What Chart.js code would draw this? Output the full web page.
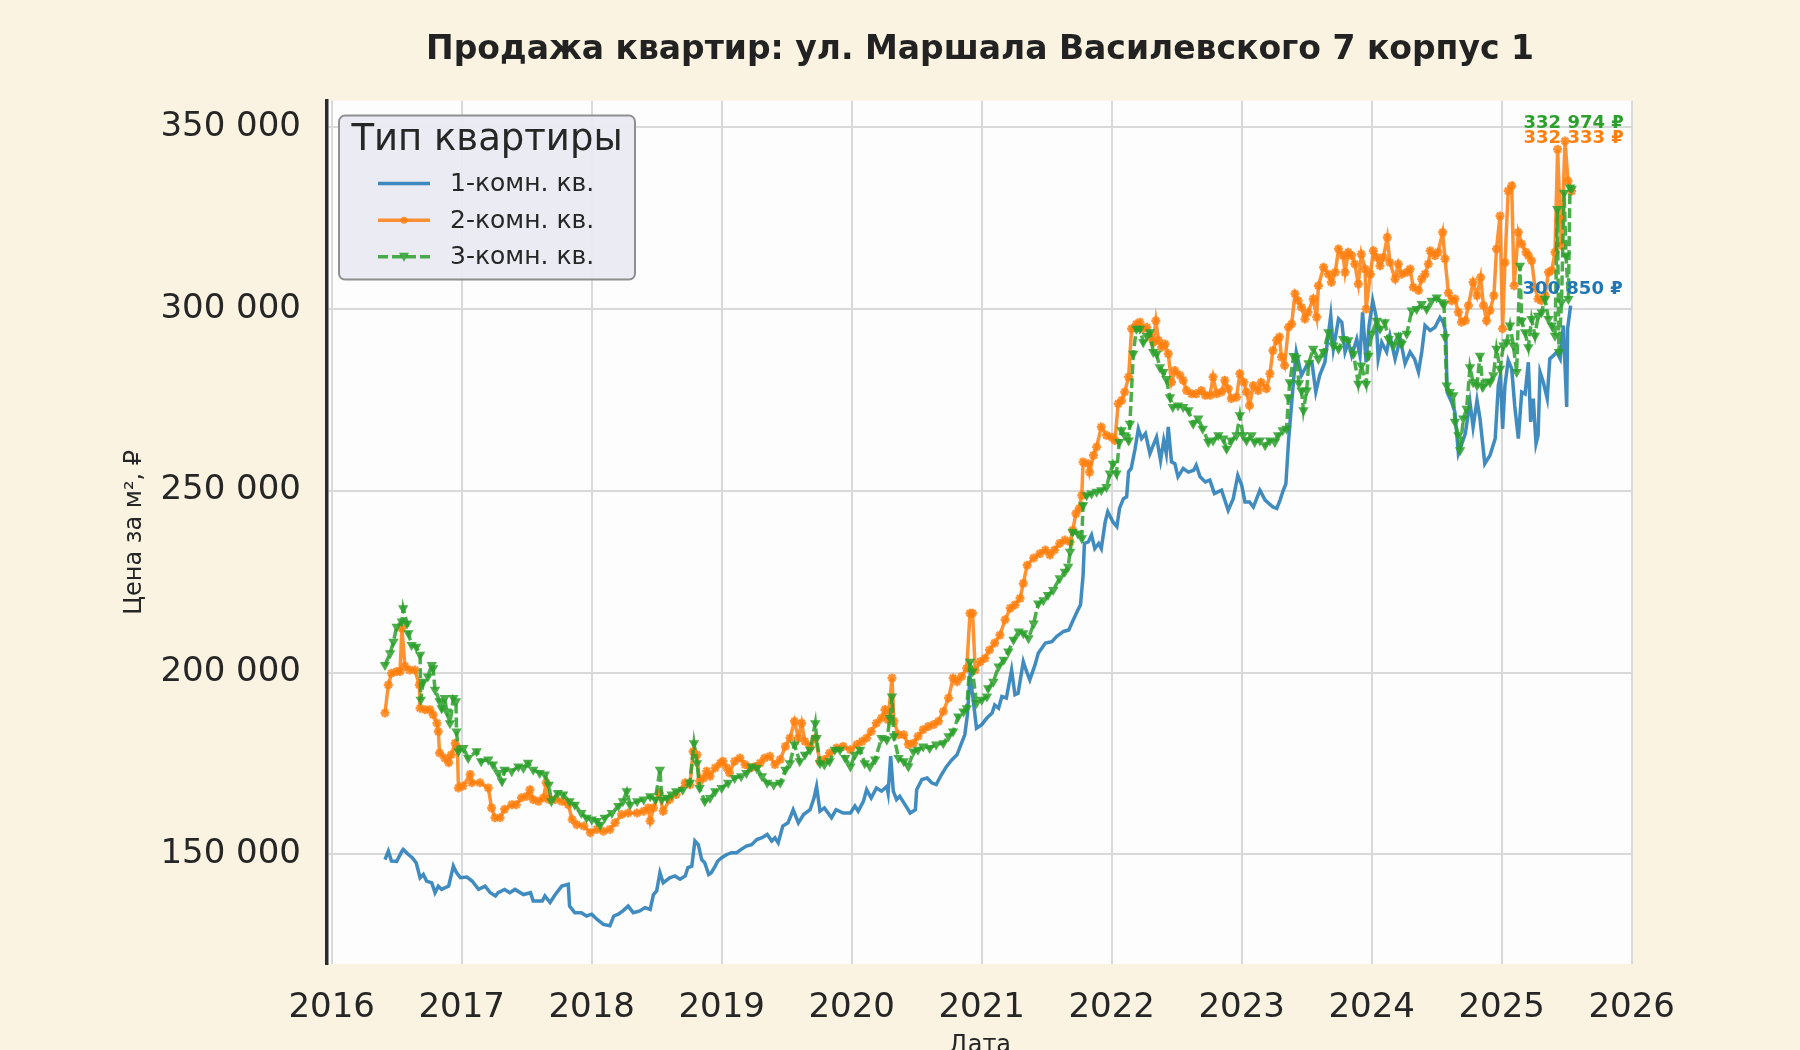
<!DOCTYPE html>
<html lang="ru">
<head>
<meta charset="utf-8">
<title>Продажа квартир: ул. Маршала Василевского 7 корпус 1</title>
<script src="https://cdn.jsdelivr.net/npm/chart.js@4.4.1/dist/chart.umd.min.js"></script>
<style>
  html, body { margin: 0; padding: 0; background: #faf3e1; overflow: hidden; }
  #wrap { width: 1800px; height: 1080px; }
</style>
</head>
<body>
<div id="wrap"><canvas id="priceChart" width="1800" height="1080"></canvas></div>
<script>
// values: [year, price per m2]
const chartTitle = 'Продажа квартир: ул. Маршала Василевского 7 корпус 1';
const legendTitle = 'Тип квартиры';
const seriesNames = ['1-комн. кв.', '2-комн. кв.', '3-комн. кв.'];
const xTicks = [2016, 2017, 2018, 2019, 2020, 2021, 2022, 2023, 2024, 2025, 2026];
const yTicks = [150000, 200000, 250000, 300000, 350000];

const oneRoom = [
  [2016.41,148600],[2016.436,150900],[2016.46,148200],[2016.50,148100],[2016.54,150900],[2016.55,151400],[2016.59,150000],[2016.62,149100],[2016.65,147700],[2016.68,143600],[2016.705,144500],[2016.73,142700],[2016.77,142200],[2016.795,139500],[2016.82,141300],[2016.846,140400],[2016.90,141300],[2016.936,146800],[2016.96,145000],[2016.99,143600],
  [2017.04,143800],[2017.08,142700],[2017.13,140400],[2017.18,141300],[2017.22,139500],[2017.26,138600],[2017.28,139500],[2017.33,140400],[2017.37,139500],[2017.41,140400],[2017.475,139000],[2017.53,139500],[2017.55,137200],[2017.62,137200],[2017.64,138600],[2017.68,136800],[2017.72,139000],[2017.77,141300],[2017.82,141800],[2017.83,135800],[2017.87,134000],[2017.92,134000],[2017.96,133100],
  [2018.00,133600],[2018.04,132200],[2018.09,130800],[2018.14,130400],[2018.17,133100],[2018.205,133600],[2018.24,134500],[2018.28,135800],[2018.32,134000],[2018.37,134500],[2018.41,135400],[2018.45,134900],[2018.475,139000],[2018.50,140000],[2018.525,145000],[2018.55,142200],[2018.60,143600],[2018.64,144100],[2018.68,143200],[2018.72,144100],[2018.74,146400],[2018.77,146800],[2018.794,153700],[2018.82,152700],[2018.846,148600],[2018.87,147700],[2018.90,144500],[2018.92,145000],[2018.95,146800],[2018.97,148200],
  [2019.00,149100],[2019.04,150000],[2019.076,150500],[2019.115,150500],[2019.15,151400],[2019.19,152300],[2019.23,152700],[2019.27,154100],[2019.31,154600],[2019.35,155500],[2019.385,153700],[2019.41,154600],[2019.435,153200],[2019.47,157800],[2019.51,158700],[2019.55,162300],[2019.59,158700],[2019.63,161000],[2019.68,162300],[2019.71,165500],[2019.73,168700],[2019.756,161900],[2019.79,162800],[2019.845,160100],[2019.88,162300],[2019.935,161400],[2019.99,161400],
  [2020.025,163300],[2020.05,161900],[2020.09,164600],[2020.115,167800],[2020.15,165500],[2020.19,168300],[2020.23,167400],[2020.27,168700],[2020.28,166900],[2020.30,177000],[2020.32,167400],[2020.345,165100],[2020.37,166000],[2020.41,163700],[2020.45,161400],[2020.49,162300],[2020.50,167800],[2020.54,170600],[2020.58,171000],[2020.615,169700],[2020.65,169200],[2020.69,171900],[2020.73,174200],[2020.77,176000],[2020.81,177400],[2020.85,181100],[2020.87,182900],[2020.89,188400],[2020.91,198900],[2020.93,193900],[2020.96,184700],
  [2021.00,185700],[2021.04,187500],[2021.08,188900],[2021.10,191100],[2021.13,190200],[2021.155,193400],[2021.19,193000],[2021.23,200700],[2021.256,193900],[2021.28,194300],[2021.32,203000],[2021.345,200300],[2021.37,198000],[2021.41,202100],[2021.435,205300],[2021.49,208100],[2021.54,208500],[2021.576,209900],[2021.63,211300],[2021.67,211700],[2021.705,214500],[2021.74,217200],[2021.76,218600],[2021.78,226800],[2021.79,235500],[2021.82,235900],[2021.845,237800],[2021.87,234100],[2021.90,235500],[2021.92,234100],[2021.95,241400],[2021.97,244200],
  [2022.01,241400],[2022.04,240100],[2022.06,245100],[2022.09,247800],[2022.115,248300],[2022.13,255200],[2022.15,256100],[2022.18,261500],[2022.205,267000],[2022.23,264300],[2022.26,265700],[2022.294,260200],[2022.32,262500],[2022.345,264700],[2022.376,258300],[2022.40,263800],[2022.42,260200],[2022.435,267500],[2022.46,257900],[2022.486,257400],[2022.51,253800],[2022.55,256100],[2022.59,255100],[2022.63,255600],[2022.65,257000],[2022.68,253800],[2022.72,252400],[2022.755,252900],[2022.79,249200],[2022.845,250100],[2022.896,244600],[2022.935,247800],[2022.97,254200],
  [2023.00,251500],[2023.025,246900],[2023.06,246900],[2023.09,245500],[2023.14,250100],[2023.18,247400],[2023.24,245500],[2023.27,245100],[2023.295,247400],[2023.32,250100],[2023.34,251900],[2023.36,263400],[2023.37,267900],[2023.40,280700],[2023.42,288100],[2023.46,281700],[2023.50,284400],[2023.54,285300],[2023.57,277100],[2023.60,281700],[2023.64,285300],[2023.685,298100],[2023.705,289000],[2023.745,297200],[2023.77,296300],[2023.795,288100],[2023.82,290800],[2023.846,287100],[2023.885,291700],[2023.91,287100],[2023.93,299000],[2023.957,285300],[2023.98,295400],
  [2024.008,302200],[2024.033,298100],[2024.05,286200],[2024.077,290800],[2024.115,288100],[2024.14,292600],[2024.18,286200],[2024.22,291700],[2024.257,284900],[2024.295,288100],[2024.33,286200],[2024.36,282600],[2024.385,288100],[2024.41,295400],[2024.45,294000],[2024.487,294900],[2024.525,297600],[2024.55,296300],[2024.57,293500],[2024.58,277100],[2024.615,274300],[2024.64,271600],[2024.667,260200],[2024.69,262500],[2024.72,265700],[2024.756,274300],[2024.78,267500],[2024.81,274800],[2024.833,269800],[2024.87,257400],[2024.91,259700],[2024.95,264300],[2024.974,278900],[2024.99,281700],
  [2025.007,267000],[2025.025,278900],[2025.05,285800],[2025.077,283500],[2025.10,273400],[2025.128,264300],[2025.154,277100],[2025.18,276600],[2025.205,285300],[2025.223,268900],[2025.243,275300],[2025.264,262900],[2025.28,265200],[2025.295,282600],[2025.32,279800],[2025.35,275300],[2025.37,286200],[2025.397,287100],[2025.423,288100],[2025.45,286200],[2025.474,295400],[2025.50,273000],[2025.507,294500],[2025.53,300850]
];

const twoRoom = [
  [2016.41,188900],[2016.436,196600],[2016.46,199800],[2016.50,200300],[2016.526,200300],[2016.54,212200],[2016.564,201700],[2016.60,200700],[2016.64,200700],[2016.674,196600],[2016.68,190200],[2016.72,189800],[2016.756,189800],[2016.78,188400],[2016.81,186100],[2016.82,183800],[2016.83,177900],[2016.87,176500],[2016.90,175200],[2016.92,177400],[2016.95,180600],[2016.967,179300],[2016.975,168300],
  [2017.01,168800],[2017.065,172000],[2017.077,169700],[2017.14,169700],[2017.205,168300],[2017.23,162800],[2017.256,160100],[2017.295,160100],[2017.33,162400],[2017.385,163700],[2017.42,163700],[2017.46,165600],[2017.50,166000],[2017.525,167800],[2017.55,165100],[2017.59,164600],[2017.63,165600],[2017.65,169700],[2017.67,165100],[2017.72,165100],[2017.77,164600],[2017.82,163700],[2017.85,159600],[2017.885,158200],[2017.94,157800],[2017.99,156000],
  [2018.04,156900],[2018.09,156400],[2018.14,156900],[2018.18,158700],[2018.23,161000],[2018.28,161400],[2018.35,161400],[2018.40,161900],[2018.435,162800],[2018.45,159200],[2018.475,162800],[2018.52,166900],[2018.55,161900],[2018.60,165100],[2018.65,166500],[2018.72,169700],[2018.756,169200],[2018.78,178300],[2018.81,177400],[2018.83,170100],[2018.86,171000],[2018.885,172900],[2018.91,171500],[2018.95,173800],[2018.99,175100],
  [2019.01,175600],[2019.04,173800],[2019.06,172400],[2019.10,175600],[2019.14,176500],[2019.18,174700],[2019.22,173800],[2019.26,174200],[2019.295,175100],[2019.33,176500],[2019.37,177000],[2019.41,174700],[2019.45,176100],[2019.49,179700],[2019.525,182000],[2019.56,186600],[2019.59,182000],[2019.615,186100],[2019.64,181100],[2019.68,179700],[2019.72,182000],[2019.756,175600],[2019.79,176100],[2019.83,177900],[2019.885,179300],[2019.935,179700],[2019.99,178800],
  [2020.04,180200],[2020.08,181100],[2020.115,182000],[2020.15,183800],[2020.19,186100],[2020.23,187500],[2020.256,189800],[2020.28,187000],[2020.31,198500],[2020.325,186600],[2020.36,182900],[2020.40,182900],[2020.436,180200],[2020.475,180600],[2020.51,182500],[2020.55,184300],[2020.59,185200],[2020.63,185700],[2020.667,186600],[2020.705,189300],[2020.745,193000],[2020.78,198500],[2020.81,197500],[2020.845,198900],[2020.885,201200],[2020.91,216300],[2020.93,216300],[2020.95,200700],[2020.99,203000],
  [2021.025,203900],[2021.06,206200],[2021.10,208100],[2021.14,210300],[2021.18,214500],[2021.22,217700],[2021.256,218600],[2021.295,220400],[2021.32,224500],[2021.35,229500],[2021.40,231500],[2021.448,232700],[2021.49,233700],[2021.525,232300],[2021.56,233700],[2021.60,235500],[2021.64,236400],[2021.68,235900],[2021.70,239100],[2021.725,243700],[2021.75,245100],[2021.77,248700],[2021.78,257900],[2021.82,257400],[2021.83,255100],[2021.86,259700],[2021.884,262000],[2021.92,267500],[2021.96,265200],
  [2022.00,264700],[2022.025,263800],[2022.05,273900],[2022.076,274800],[2022.10,277100],[2022.13,281200],[2022.153,294500],[2022.19,295800],[2022.217,296300],[2022.24,294500],[2022.27,294900],[2022.294,292200],[2022.32,290800],[2022.34,296700],[2022.36,291300],[2022.384,289400],[2022.41,290300],[2022.435,287600],[2022.46,279800],[2022.486,283000],[2022.525,281700],[2022.55,280300],[2022.576,277500],[2022.615,276600],[2022.65,276600],[2022.69,277500],[2022.72,276200],[2022.756,276200],[2022.78,281200],[2022.807,276600],[2022.845,277100],[2022.87,280300],[2022.896,278000],[2022.92,275300],[2022.96,275700],[2022.986,282100],
  [2023.017,279800],[2023.037,277100],[2023.06,273400],[2023.09,278900],[2023.127,277500],[2023.15,279800],[2023.19,278000],[2023.217,282100],[2023.24,288500],[2023.27,291300],[2023.29,292200],[2023.306,286700],[2023.33,284400],[2023.36,294900],[2023.384,295800],[2023.41,304100],[2023.435,302200],[2023.46,300400],[2023.487,297200],[2023.51,299000],[2023.55,302700],[2023.577,297700],[2023.59,306300],[2023.63,311400],[2023.667,309500],[2023.69,307300],[2023.72,310000],[2023.745,316400],[2023.78,314600],[2023.795,310000],[2023.82,315500],[2023.846,314600],[2023.87,312300],[2023.897,306800],[2023.92,315000],[2023.95,310900],[2023.957,299900],[2023.99,309500],
  [2024.013,315900],[2024.04,314100],[2024.064,311800],[2024.09,314100],[2024.12,319600],[2024.14,312700],[2024.18,308200],[2024.205,312300],[2024.23,309500],[2024.27,310000],[2024.295,310900],[2024.32,305900],[2024.36,305000],[2024.385,308200],[2024.41,309500],[2024.436,312300],[2024.45,315900],[2024.487,314600],[2024.51,315500],[2024.546,321000],[2024.564,313700],[2024.59,304300],[2024.615,302200],[2024.64,302700],[2024.667,299000],[2024.69,296300],[2024.72,296700],[2024.744,300900],[2024.78,307300],[2024.81,303600],[2024.838,308600],[2024.86,300900],[2024.884,296700],[2024.91,299500],[2024.94,303600],[2024.96,316400],[2024.987,325500],
  [2025.007,294500],[2025.025,312700],[2025.05,332400],[2025.077,333800],[2025.095,306300],[2025.128,321000],[2025.154,317800],[2025.187,315500],[2025.205,314600],[2025.23,313200],[2025.256,305900],[2025.28,302700],[2025.307,302200],[2025.333,303600],[2025.36,310000],[2025.385,310500],[2025.41,315500],[2025.43,343800],[2025.45,324600],[2025.46,317300],[2025.487,346100],[2025.51,335100],[2025.538,332333]
];

const threeRoom = [
  [2016.41,202100],[2016.45,205300],[2016.475,208500],[2016.50,212600],[2016.54,214000],[2016.55,217700],[2016.58,213500],[2016.59,210800],[2016.615,207600],[2016.65,207100],[2016.68,204900],[2016.685,192500],[2016.705,197500],[2016.74,198900],[2016.77,202100],[2016.78,201200],[2016.795,195300],[2016.83,192100],[2016.846,190200],[2016.87,193000],[2016.885,189300],[2016.91,186100],[2016.936,193000],[2016.956,192100],[2016.96,183800],[2016.975,178400],
  [2017.013,179300],[2017.05,176500],[2017.115,178400],[2017.15,175600],[2017.205,176100],[2017.24,174700],[2017.28,172400],[2017.31,170100],[2017.33,173300],[2017.385,172900],[2017.436,174200],[2017.475,173800],[2017.51,175200],[2017.55,173300],[2017.60,172400],[2017.64,172000],[2017.67,169200],[2017.69,164600],[2017.74,166900],[2017.78,166500],[2017.83,164600],[2017.87,163700],[2017.92,161400],[2017.96,160100],
  [2018.00,159600],[2018.04,159200],[2018.065,158200],[2018.10,160100],[2018.155,161400],[2018.205,163300],[2018.24,164600],[2018.27,167400],[2018.295,163700],[2018.35,164600],[2018.40,165100],[2018.45,166000],[2018.49,165100],[2018.525,173300],[2018.54,165100],[2018.58,165600],[2018.615,166500],[2018.65,167400],[2018.70,167800],[2018.755,169700],[2018.787,180600],[2018.81,175100],[2018.83,168300],[2018.87,164600],[2018.91,165500],[2018.95,167400],
  [2019.00,168300],[2019.05,169700],[2019.10,171000],[2019.15,171500],[2019.19,172400],[2019.23,174200],[2019.27,173800],[2019.31,171500],[2019.35,169700],[2019.40,169200],[2019.45,169700],[2019.49,173300],[2019.525,175100],[2019.56,180200],[2019.60,175600],[2019.64,177400],[2019.68,178800],[2019.72,186100],[2019.73,182000],[2019.756,175100],[2019.79,174700],[2019.83,175600],[2019.87,178800],[2019.91,178800],[2019.95,176500],[2019.99,174200],
  [2020.025,177400],[2020.065,178800],[2020.10,175100],[2020.14,174200],[2020.18,176100],[2020.23,182000],[2020.27,181500],[2020.295,187500],[2020.31,193400],[2020.325,182500],[2020.36,176500],[2020.40,175600],[2020.436,174200],[2020.475,178300],[2020.51,178800],[2020.55,179700],[2020.60,179300],[2020.65,180200],[2020.705,180600],[2020.745,182500],[2020.78,183800],[2020.82,187900],[2020.86,189300],[2020.885,190200],[2020.91,203000],[2020.93,200300],[2020.96,191600],
  [2021.00,192500],[2021.04,193400],[2021.05,195700],[2021.09,197500],[2021.13,201700],[2021.17,203500],[2021.205,205800],[2021.245,209000],[2021.285,211300],[2021.32,210800],[2021.36,209400],[2021.40,213500],[2021.435,219000],[2021.475,219900],[2021.51,221300],[2021.55,222700],[2021.60,225900],[2021.64,227700],[2021.665,229100],[2021.68,233200],[2021.70,238700],[2021.74,238200],[2021.77,236900],[2021.78,246000],[2021.807,248700],[2021.845,249200],[2021.884,249700],[2021.92,250100],[2021.96,251000],[2021.986,254700],
  [2022.01,257400],[2022.037,254700],[2022.058,263400],[2022.076,266600],[2022.10,265200],[2022.13,263800],[2022.14,268400],[2022.166,287600],[2022.19,294500],[2022.217,294500],[2022.243,290800],[2022.27,292600],[2022.294,293500],[2022.32,288100],[2022.345,287600],[2022.37,283900],[2022.397,282600],[2022.42,280700],[2022.448,275700],[2022.47,273000],[2022.51,273400],[2022.55,273000],[2022.59,272100],[2022.627,268400],[2022.666,269800],[2022.70,267000],[2022.743,263400],[2022.78,263800],[2022.82,265200],[2022.858,264300],[2022.884,261500],[2022.92,263800],[2022.96,265200],[2022.986,270700],
  [2023.01,265200],[2023.037,263800],[2023.076,265200],[2023.10,263400],[2023.14,263800],[2023.18,262500],[2023.217,263800],[2023.255,263400],[2023.28,265200],[2023.315,266600],[2023.345,267000],[2023.36,275700],[2023.37,279800],[2023.40,287000],[2023.42,286500],[2023.44,279500],[2023.46,277500],[2023.475,272100],[2023.50,277500],[2023.515,285000],[2023.55,289000],[2023.59,286200],[2023.63,288100],[2023.667,293500],[2023.705,289900],[2023.745,289000],[2023.78,291700],[2023.82,291300],[2023.86,287600],[2023.897,279400],[2023.92,284400],[2023.957,279400],[2023.975,287100],
  [2024.00,293100],[2024.04,296700],[2024.064,294500],[2024.10,296300],[2024.13,291700],[2024.167,289900],[2024.205,292600],[2024.23,290300],[2024.27,293100],[2024.308,299500],[2024.346,299900],[2024.385,301300],[2024.423,299900],[2024.46,302200],[2024.50,303100],[2024.54,301800],[2024.556,301300],[2024.564,292200],[2024.577,278900],[2024.60,277100],[2024.628,276200],[2024.64,268900],[2024.667,265200],[2024.68,261100],[2024.705,269800],[2024.73,272500],[2024.756,283900],[2024.78,279800],[2024.81,279000],[2024.833,287100],[2024.855,278500],[2024.884,280000],[2024.91,279800],[2024.936,281700],[2024.96,289000],[2024.987,283500],
  [2025.013,289900],[2025.038,290800],[2025.064,295400],[2025.09,289900],[2025.115,282600],[2025.14,311800],[2025.154,296700],[2025.18,293500],[2025.205,289400],[2025.23,297200],[2025.256,292600],[2025.28,298100],[2025.307,299000],[2025.333,302700],[2025.36,297200],[2025.385,295400],[2025.41,292600],[2025.428,327400],[2025.44,288100],[2025.46,301800],[2025.48,331900],[2025.495,314600],[2025.513,302700],[2025.525,333300],[2025.538,332974]
];

const FONT = "'DejaVu Sans', 'Noto Sans', sans-serif";
const TEXT = '#262626';
const lineColors = ['rgba(31,119,180,0.85)', 'rgba(255,127,14,0.85)', 'rgba(44,160,44,0.85)'];
const labelColors = ['#1f77b4', '#ff7f0e', '#2ca02c'];
const labelShift = [-16, -53, -65];

function spaced(v) {
    return Math.round(v).toString().replace(/\B(?=(\d{3})+(?!\d))/g, ' ');
}

function toPoints(rows) {
    return rows.map(r => ({ x: r[0], y: r[1] }));
}

// white plot face behind the grid
const plotFace = {
    id: 'plotFace',
    beforeDraw(chart) {
        const { ctx, chartArea: a } = chart;
        ctx.save();
        ctx.fillStyle = '#fdfdfd';
        ctx.fillRect(a.left, a.top, a.right - a.left, a.bottom - a.top);
        ctx.restore();
    }
};

// last value written above the end of every line
const endLabels = {
    id: 'endLabels',
    afterDatasetsDraw(chart) {
        const ctx = chart.ctx;
        ctx.save();
        ctx.font = `bold 18px ${FONT}`;
        ctx.textAlign = 'center';
        ctx.textBaseline = 'middle';
        chart.data.datasets.forEach((ds, i) => {
            const pts = chart.getDatasetMeta(i).data;
            const last = pts[pts.length - 1];
            const value = ds.data[ds.data.length - 1].y;
            ctx.fillStyle = labelColors[i];
            ctx.fillText(spaced(value) + ' ₽', last.x + 2, last.y + labelShift[i]);
        });
        ctx.restore();
    }
};

// legend box in the top left corner of the plot
const legendBox = {
    id: 'legendBox',
    afterDraw(chart) {
        const { ctx, chartArea: a } = chart;
        const x0 = a.left + 12, y0 = a.top + 15, w = 296, h = 164;
        ctx.save();
        ctx.beginPath();
        ctx.roundRect(x0, y0, w, h, 6);
        ctx.fillStyle = 'rgba(234,234,242,0.95)';
        ctx.fill();
        ctx.lineWidth = 2;
        ctx.strokeStyle = '#8f8f8f';
        ctx.stroke();

        ctx.fillStyle = TEXT;
        ctx.textBaseline = 'middle';
        ctx.textAlign = 'center';
        ctx.font = `37px ${FONT}`;
        ctx.fillText(legendTitle, x0 + w / 2, y0 + 25);

        ctx.textAlign = 'left';
        ctx.font = `25px ${FONT}`;
        chart.data.datasets.forEach((ds, i) => {
            const y = y0 + 68 + i * 36.6;
            const lx1 = x0 + 39, lx2 = x0 + 91, mx = (lx1 + lx2) / 2;
            ctx.strokeStyle = lineColors[i];
            ctx.lineWidth = 3.5;
            ctx.setLineDash(ds.borderDash || []);
            ctx.beginPath();
            ctx.moveTo(lx1, y);
            ctx.lineTo(lx2, y);
            ctx.stroke();
            ctx.setLineDash([]);
            ctx.fillStyle = lineColors[i];
            if (i === 1) {
                ctx.beginPath();
                ctx.arc(mx, y, 3.5, 0, Math.PI * 2);
                ctx.fill();
            } else if (i === 2) {
                ctx.beginPath();
                ctx.moveTo(mx - 5, y - 4);
                ctx.lineTo(mx + 5, y - 4);
                ctx.lineTo(mx, y + 5);
                ctx.closePath();
                ctx.fill();
            }
            ctx.fillStyle = TEXT;
            ctx.fillText(seriesNames[i], x0 + 111, y + 1);
        });
        ctx.restore();
    }
};

const datasets = [
    {
        label: seriesNames[0],
        data: toPoints(oneRoom),
        borderColor: lineColors[0],
        borderWidth: 3.5,
        pointRadius: 0,
        order: 3
    },
    {
        label: seriesNames[1],
        data: toPoints(twoRoom),
        borderColor: lineColors[1],
        backgroundColor: lineColors[1],
        borderWidth: 3.5,
        pointStyle: 'star',
        pointRadius: 4.5,
        pointBorderWidth: 2.5,
        order: 2
    },
    {
        label: seriesNames[2],
        data: toPoints(threeRoom),
        borderColor: lineColors[2],
        backgroundColor: lineColors[2],
        borderWidth: 3.5,
        borderDash: [10, 4],
        pointStyle: 'triangle',
        rotation: 180,
        pointRadius: 6,
        pointBorderWidth: 0,
        order: 1
    }
];

new Chart(document.getElementById('priceChart').getContext('2d'), {
    type: 'line',
    data: { datasets: datasets },
    options: {
        responsive: false,
        animation: false,
        devicePixelRatio: 1,
        layout: { padding: { left: 100, right: 167, top: 0, bottom: 0 } },
        elements: { line: { tension: 0 } },
        plugins: {
            legend: { display: false },
            tooltip: { enabled: false },
            title: {
                display: true,
                text: chartTitle,
                fullSize: false,
                color: '#222222',
                font: { family: FONT, size: 33, weight: 'bold' },
                padding: { top: 31, bottom: 30 }
            }
        },
        scales: {
            x: {
                type: 'linear',
                min: 2015.964,
                max: 2026.01,
                afterBuildTicks: s => { s.ticks = xTicks.map(v => ({ value: v })); },
                afterFit: s => { s.height = 116; },
                ticks: {
                    callback: v => String(v),
                    color: TEXT,
                    font: { family: FONT, size: 34 },
                    padding: 24,
                    maxRotation: 0
                },
                grid: { color: '#d9d9d9', lineWidth: 2, drawTicks: false },
                border: { display: false },
                title: {
                    display: true,
                    text: 'Дата',
                    color: TEXT,
                    font: { family: FONT, size: 24 },
                    padding: { top: 4, bottom: 20 }
                }
            },
            y: {
                type: 'linear',
                min: 119900,
                max: 357200,
                afterBuildTicks: s => { s.ticks = yTicks.map(v => ({ value: v })); },
                afterFit: s => { s.width = 227; },
                ticks: {
                    callback: v => spaced(v),
                    color: TEXT,
                    font: { family: FONT, size: 34 },
                    padding: 26
                },
                grid: { color: '#d9d9d9', lineWidth: 2, drawTicks: false },
                border: { display: true, color: '#2b2b2b', width: 3.5 },
                title: {
                    display: true,
                    text: 'Цена за м², ₽',
                    color: TEXT,
                    font: { family: FONT, size: 24 },
                    padding: { top: 20, bottom: 0 }
                }
            }
        }
    },
    plugins: [plotFace, endLabels, legendBox]
});
</script>
</body>
</html>
